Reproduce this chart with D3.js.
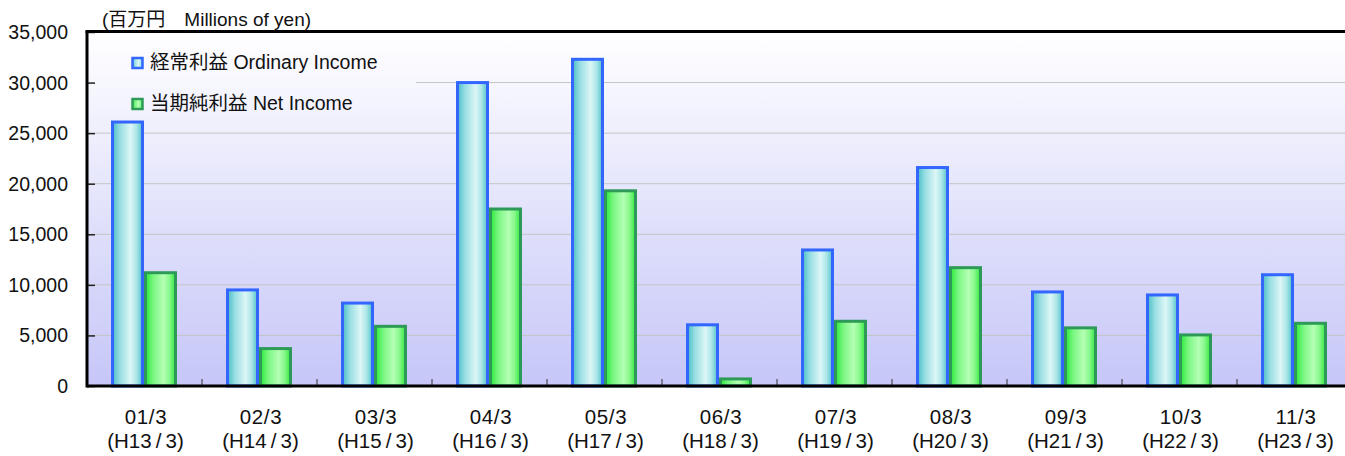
<!DOCTYPE html>
<html><head><meta charset="utf-8">
<script src="https://cdn.jsdelivr.net/npm/d3@7"></script>
<style>
html,body{margin:0;padding:0;background:#fff;}
svg text{font-family:"Liberation Sans","Noto Sans CJK JP",Arial,sans-serif;fill:#111;}
</style></head>
<body><svg id="c" width="1345" height="456"></svg>
<script>
const categories = ["01/3","02/3","03/3","04/3","05/3","06/3","07/3","08/3","09/3","10/3","11/3"];
const subLabels = ["(H13\u2009/\u20093)","(H14\u2009/\u20093)","(H15\u2009/\u20093)","(H16\u2009/\u20093)","(H17\u2009/\u20093)","(H18\u2009/\u20093)","(H19\u2009/\u20093)","(H20\u2009/\u20093)","(H21\u2009/\u20093)","(H22\u2009/\u20093)","(H23\u2009/\u20093)"];
const ordinaryIncome = [26100, 9500, 8200, 30000, 32300, 6050, 13450, 21600, 9300, 9000, 11000];
const netIncome = [11200, 3700, 5900, 17500, 19300, 700, 6400, 11700, 5750, 5050, 6200];
const seriesNames = ["経常利益 Ordinary Income", "当期純利益 Net Income"];
const yTicks = [0, 5000, 10000, 15000, 20000, 25000, 30000, 35000];
const unitLabel = "(百万円\u3000Millions of yen)";

const svg = d3.select("#c");
const L = 87, R = 1352, T = 32, B = 386;
const x = d3.scaleBand().domain(categories).range([L, R]).padding(0);
const xs = d3.scaleBand().domain([0, 1]).range([24, 90]).padding(0);
const y = d3.scaleLinear().domain([0, 35000]).range([B, T]);

const defs = svg.append("defs");
const bg = defs.append("linearGradient").attr("id", "bg").attr("gradientUnits", "userSpaceOnUse")
  .attr("x1", 0).attr("y1", T).attr("x2", 0).attr("y2", B);
bg.append("stop").attr("offset", 0).attr("stop-color", "#ffffff");
bg.append("stop").attr("offset", 1).attr("stop-color", "#c6c6f8");

const gb = defs.append("linearGradient").attr("id", "gblue").attr("x1", 0).attr("x2", 1).attr("y1", 0).attr("y2", 0);
[[0, "#48bec6"], [0.25, "#98dee2"], [0.6, "#dcf6f6"], [0.8, "#ace6e8"], [1, "#50c2ca"]]
  .forEach(s => gb.append("stop").attr("offset", s[0]).attr("stop-color", s[1]));
const gg = defs.append("linearGradient").attr("id", "ggreen").attr("x1", 0).attr("x2", 1).attr("y1", 0).attr("y2", 0);
[[0, "#28ea38"], [0.25, "#78f680"], [0.6, "#b4ffb4"], [0.8, "#88f88c"], [1, "#30ea3c"]]
  .forEach(s => gg.append("stop").attr("offset", s[0]).attr("stop-color", s[1]));

// background
svg.append("rect").attr("x", L).attr("y", T).attr("width", R - L).attr("height", B - T).attr("fill", "url(#bg)");

// gridlines
svg.append("g").selectAll("line").data(yTicks.filter(d => d > 0 && d < 35000)).join("line")
  .attr("x1", L).attr("x2", R).attr("y1", d => y(d)).attr("y2", d => y(d))
  .attr("stroke", "#c4c4c4").attr("stroke-width", 1);

// legend box (covers gridline)
svg.append("rect").attr("x", L + 1).attr("y", T + 1).attr("width", 328).attr("height", 82).attr("fill", "url(#bg)");

// bars
const fills = ["url(#gblue)", "url(#ggreen)"];
const strokes = ["#3366ff", "#2e9a58"];
const series = [ordinaryIncome, netIncome];
series.forEach((vals, s) => {
  svg.append("g").selectAll("rect").data(vals).join("rect")
    .attr("x", (d, i) => x(categories[i]) + xs(s) + 1.5)
    .attr("y", d => y(d))
    .attr("width", xs.bandwidth() - 3)
    .attr("height", d => B - y(d))
    .attr("fill", fills[s]).attr("stroke", strokes[s]).attr("stroke-width", 3);
});

// y axis
const ya = svg.append("g").attr("transform", `translate(${L},0)`)
  .call(d3.axisRight(y).tickValues(yTicks).tickSize(8).tickFormat(""));
ya.select(".domain").remove();
ya.selectAll("line").attr("stroke", "#222").attr("stroke-width", 1.5);
svg.append("g").selectAll("text").data(yTicks).join("text")
  .attr("x", 68).attr("y", d => y(d)).attr("dy", "0.36em").attr("text-anchor", "end")
  .attr("font-size", 19.5).text(d => d3.format(",")(d));

// x ticks (inner)
const bounds = categories.slice(1).map(c => x(c));
svg.append("g").selectAll("line").data(bounds).join("line")
  .attr("x1", d => d).attr("x2", d => d).attr("y1", B).attr("y2", B - 7)
  .attr("stroke", "#333").attr("stroke-width", 1);

// axis lines
svg.append("line").attr("x1", L).attr("x2", L).attr("y1", T - 1).attr("y2", B + 1.5).attr("stroke", "#000").attr("stroke-width", 3);
svg.append("line").attr("x1", L).attr("x2", R).attr("y1", B).attr("y2", B).attr("stroke", "#000").attr("stroke-width", 3);
svg.append("line").attr("x1", L - 1.5).attr("x2", R).attr("y1", T - 0.5).attr("y2", T - 0.5).attr("stroke", "#000").attr("stroke-width", 3);

// x labels
const xl = svg.append("g");
xl.selectAll("text.a").data(categories).join("text").attr("class", "a")
  .attr("x", d => x(d) + x.bandwidth() / 2 + 1.5).attr("y", 424).attr("text-anchor", "middle")
  .attr("font-size", 20.5).attr("letter-spacing", 0.7).text(d => d);
xl.selectAll("text.b").data(subLabels).join("text").attr("class", "b")
  .attr("x", (d, i) => x(categories[i]) + x.bandwidth() / 2 + 1).attr("y", 448).attr("text-anchor", "middle")
  .attr("font-size", 20.5).text(d => d);

// unit label
svg.append("text").attr("x", 102).attr("y", 26).attr("font-size", 19).text(unitLabel);

// legend
const lg = svg.append("g");
seriesNames.forEach((n, s) => {
  const yy = 57 + s * 41;
  lg.append("rect").attr("x", 132.5).attr("y", yy + 1).attr("width", 10).attr("height", 10)
    .attr("fill", fills[s]).attr("stroke", strokes[s]).attr("stroke-width", 2.5);
  lg.append("text").attr("x", 150).attr("y", yy + 12).attr("font-size", 19.5).text(n);
});
</script></body></html>
